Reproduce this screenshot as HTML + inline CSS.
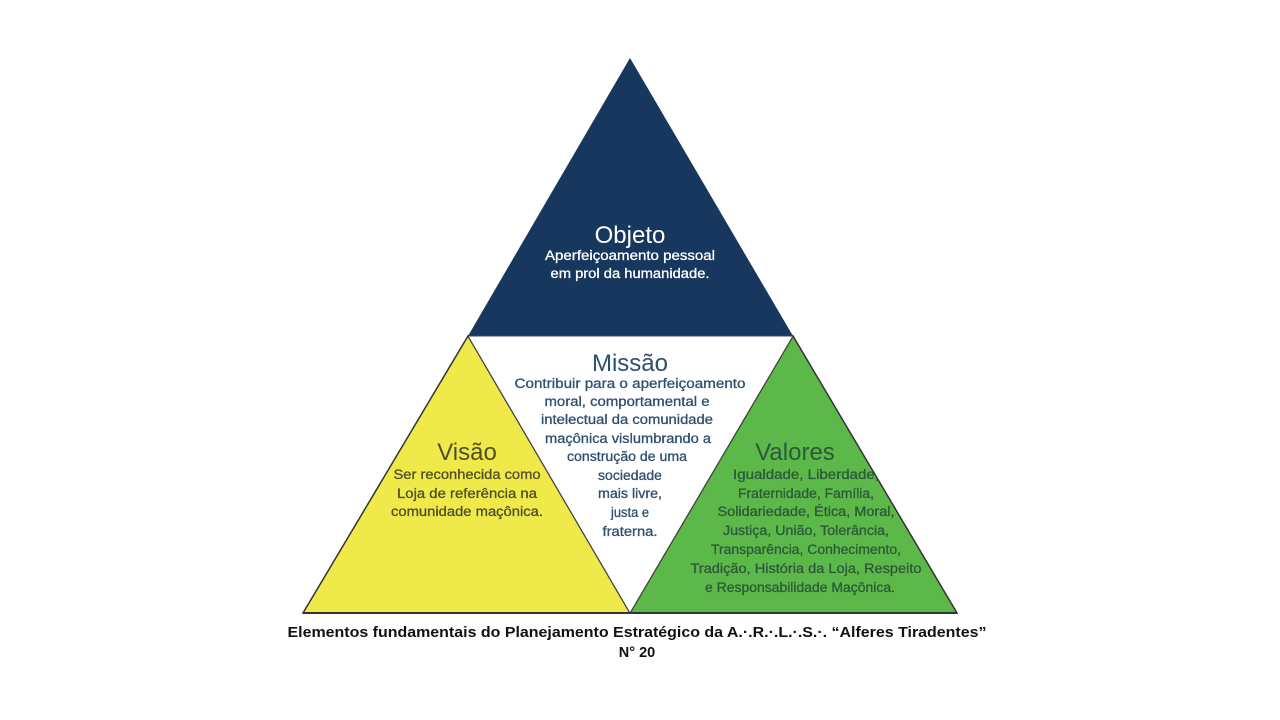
<!DOCTYPE html>
<html><head><meta charset="utf-8"><style>
html,body{margin:0;padding:0;background:#fff;}
svg{display:block;}
text{font-family:"Liberation Sans Narrow","Liberation Sans",sans-serif;text-anchor:middle;}
</style></head><body>
<svg width="1280" height="720" viewBox="0 0 1280 720" xmlns="http://www.w3.org/2000/svg">
<rect width="1280" height="720" fill="#fff"/>
<polygon points="630,58 468,336 793,336" fill="#17375e"/>
<polygon points="468,336 303,613 630,613" fill="#f0e94a" stroke="#333" stroke-width="1.5"/>
<polygon points="793,336 630,613 957,613" fill="#5cb848" stroke="#333" stroke-width="1.5"/>
<polygon points="468,336 793,336 630,613" fill="#fff" stroke="#444" stroke-width="1"/>
<line x1="303" y1="613" x2="957" y2="613" stroke="#333" stroke-width="2"/>

<g fill="#fff">
<text x="630" y="243" font-size="24" style="font-family:'Liberation Sans',sans-serif">Objeto</text>
<g font-size="13.5" stroke="#fff" stroke-width="0.3">
<text x="630" y="260" textLength="170" lengthAdjust="spacingAndGlyphs">Aperfeiçoamento pessoal</text>
<text x="630" y="278" textLength="159" lengthAdjust="spacingAndGlyphs">em prol da humanidade.</text>
</g>
</g>

<g fill="#2e4f6e">
<text x="630" y="371" font-size="24" style="font-family:'Liberation Sans',sans-serif">Missão</text>
<g font-size="13.5" stroke="#2e4f6e" stroke-width="0.3">
<text x="630" y="388" textLength="231" lengthAdjust="spacingAndGlyphs">Contribuir para o  aperfeiçoamento</text>
<text x="627" y="406" textLength="165" lengthAdjust="spacingAndGlyphs">moral, comportamental e</text>
<text x="627" y="424" textLength="172" lengthAdjust="spacingAndGlyphs">intelectual da comunidade</text>
<text x="628" y="443" textLength="166" lengthAdjust="spacingAndGlyphs">maçônica vislumbrando a</text>
<text x="627" y="461" textLength="120" lengthAdjust="spacingAndGlyphs">construção de uma</text>
<text x="630" y="480" textLength="64" lengthAdjust="spacingAndGlyphs">sociedade</text>
<text x="630" y="498" textLength="64" lengthAdjust="spacingAndGlyphs">mais livre,</text>
<text x="630" y="517" textLength="38" lengthAdjust="spacingAndGlyphs">justa e</text>
<text x="630" y="536" textLength="55" lengthAdjust="spacingAndGlyphs">fraterna.</text>
</g>
</g>

<g fill="#4f4f2a">
<text x="467" y="460" font-size="24" style="font-family:'Liberation Sans',sans-serif">Visão</text>
<g font-size="13.5" stroke="#4f4f2a" stroke-width="0.3">
<text x="467" y="479" textLength="147" lengthAdjust="spacingAndGlyphs">Ser reconhecida como</text>
<text x="467" y="498" textLength="140" lengthAdjust="spacingAndGlyphs">Loja de referência na</text>
<text x="467" y="516" textLength="152" lengthAdjust="spacingAndGlyphs">comunidade maçônica.</text>
</g>
</g>

<g fill="#2b5a3a">
<text x="795" y="460" font-size="24" style="font-family:'Liberation Sans',sans-serif">Valores</text>
<g font-size="13.5" stroke="#2b5a3a" stroke-width="0.3">
<text x="806" y="479" textLength="146" lengthAdjust="spacingAndGlyphs">Igualdade, Liberdade,</text>
<text x="806" y="498" textLength="136" lengthAdjust="spacingAndGlyphs">Fraternidade, Família,</text>
<text x="806" y="516" textLength="177" lengthAdjust="spacingAndGlyphs">Solidariedade, Ética, Moral,</text>
<text x="806" y="535" textLength="166" lengthAdjust="spacingAndGlyphs">Justiça, União, Tolerância,</text>
<text x="806" y="554" textLength="190" lengthAdjust="spacingAndGlyphs">Transparência, Conhecimento,</text>
<text x="806" y="573" textLength="231" lengthAdjust="spacingAndGlyphs">Tradição, História da Loja, Respeito</text>
<text x="800" y="592" textLength="190" lengthAdjust="spacingAndGlyphs">e Responsabilidade Maçônica.</text>
</g>
</g>

<g fill="#111" font-weight="bold" font-size="14.5">
<text x="637" y="637" textLength="699" lengthAdjust="spacingAndGlyphs" style="font-family:'Liberation Sans',sans-serif">Elementos fundamentais do Planejamento Estratégico da A.·.R.·.L.·.S.·. “Alferes Tiradentes”</text>
<text x="637" y="657" style="font-family:'Liberation Sans',sans-serif">N° 20</text>
</g>
</svg>
</body></html>
